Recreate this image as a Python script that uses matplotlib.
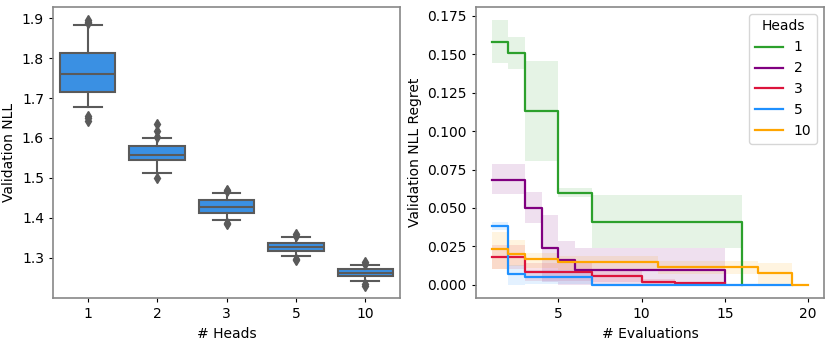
import matplotlib
matplotlib.use("Agg")
import matplotlib.pyplot as plt
from matplotlib.ticker import FormatStrFormatter

# ---------------- data: left box plot ----------------
heads_labels = ["1", "2", "3", "5", "10"]
box_med = [1.760, 1.557, 1.428, 1.328, 1.261]
box_q1 = [1.716, 1.545, 1.413, 1.317, 1.254]
box_q3 = [1.812, 1.580, 1.445, 1.338, 1.271]
box_whislo = [1.677, 1.511, 1.394, 1.303, 1.242]
box_whishi = [1.883, 1.600, 1.463, 1.351, 1.282]
box_fliers = [
    [1.895, 1.891, 1.887, 1.655, 1.650, 1.643],
    [1.636, 1.618, 1.603, 1.500],
    [1.470, 1.466, 1.388, 1.385],
    [1.360, 1.355, 1.297, 1.293],
    [1.288, 1.285, 1.235, 1.230],
]

# ---------------- data: right regret curves ----------------
series_names = ["1", "2", "3", "5", "10"]
series_colors = ["tab:green", "purple", "crimson", "dodgerblue", "orange"]

regret_h1 = [0.158, 0.1505, 0.113, 0.113, 0.060, 0.060,
             0.041, 0.041, 0.041, 0.041, 0.041, 0.041, 0.041, 0.041, 0.041, 0.0]
lo_h1 = [0.144, 0.1405, 0.0808, 0.0808, 0.0574, 0.0574,
         0.0242, 0.0242, 0.0242, 0.0242, 0.0242, 0.0242, 0.0242, 0.0242, 0.0242, 0.0]
hi_h1 = [0.172, 0.161, 0.1455, 0.1455, 0.0628, 0.0628,
         0.0585, 0.0585, 0.0585, 0.0585, 0.0585, 0.0585, 0.0585, 0.0585, 0.0585, 0.0]

regret_h2 = [0.068, 0.068, 0.050, 0.0238, 0.0162,
             0.0100, 0.0100, 0.0100, 0.0100, 0.0100, 0.0100, 0.0100, 0.0100, 0.0100, 0.0012]
lo_h2 = [0.0589, 0.0589, 0.040, 0.002, 0.0,
         0.0, 0.0, 0.0, 0.0, 0.0, 0.0, 0.0, 0.0, 0.0, 0.0]
hi_h2 = [0.0784, 0.0784, 0.0602, 0.0453, 0.0288,
         0.0238, 0.0238, 0.0238, 0.0238, 0.0238, 0.0238, 0.0238, 0.0238, 0.0238, 0.0012]

regret_h3 = [0.018, 0.018, 0.0082, 0.0082, 0.0082, 0.0082, 0.0061, 0.0061, 0.0061,
             0.0018, 0.0018, 0.0012, 0.0012, 0.0012, 0.0012]
lo_h3 = [0.0102, 0.0102, 0.0025, 0.0025, 0.0025, 0.0025, 0.002, 0.002, 0.002,
         0.0, 0.0, 0.0, 0.0, 0.0, 0.0]
hi_h3 = [0.026, 0.026, 0.014, 0.014, 0.014, 0.014, 0.010, 0.010, 0.010,
         0.004, 0.004, 0.0022, 0.0022, 0.0022, 0.0022]

regret_h5 = [0.038, 0.0071, 0.0054, 0.0054, 0.0054, 0.0054] + [0.0] * 13
lo_h5 = [0.0357, 0.0, 0.0005, 0.0005, 0.0005, 0.0005] + [0.0] * 13
hi_h5 = [0.0407, 0.013, 0.0095, 0.0095, 0.0095, 0.0095] + [0.0] * 13

regret_h10 = [0.0232, 0.0204, 0.0167, 0.0167, 0.0147, 0.0147, 0.0147, 0.0147, 0.0147, 0.0147,
              0.0115, 0.0115, 0.0115, 0.0115, 0.0115, 0.0115, 0.0076, 0.0076, 0.0, 0.0]
lo_h10 = [0.0105, 0.012, 0.011, 0.011, 0.010, 0.010, 0.010, 0.010, 0.010, 0.010,
          0.007, 0.007, 0.007, 0.007, 0.007, 0.007, 0.0006, 0.0006, 0.0, 0.0]
hi_h10 = [0.0346, 0.029, 0.021, 0.021, 0.019, 0.019, 0.019, 0.019, 0.019, 0.019,
          0.0158, 0.0158, 0.0158, 0.0158, 0.0158, 0.0158, 0.0141, 0.0141, 0.0, 0.0]

regret_means = [regret_h1, regret_h2, regret_h3, regret_h5, regret_h10]
regret_lo = [lo_h1, lo_h2, lo_h3, lo_h5, lo_h10]
regret_hi = [hi_h1, hi_h2, hi_h3, hi_h5, hi_h10]

# ---------------- figure ----------------
plt.rcParams["font.family"] = ["DejaVu Sans"]
plt.rcParams["font.size"] = 10
plt.rcParams["xtick.major.size"] = 3
plt.rcParams["ytick.major.size"] = 3
fig = plt.figure(figsize=(8.31, 3.42), dpi=100)
ax1 = fig.add_axes([53 / 831, 44 / 342, 347 / 831, 291 / 342])
ax2 = fig.add_axes([476 / 831, 44 / 342, 348 / 831, 291 / 342])

box_color = "#3a90e3"
edge_gray = "#5a5a5a"
stats = []
for i in range(len(heads_labels)):
    stats.append(dict(med=box_med[i], q1=box_q1[i], q3=box_q3[i],
                      whislo=box_whislo[i], whishi=box_whishi[i],
                      fliers=box_fliers[i], label=heads_labels[i]))
ax1.bxp(stats, positions=range(len(stats)), widths=0.8, patch_artist=True,
        boxprops=dict(facecolor=box_color, edgecolor=edge_gray, linewidth=1.5),
        medianprops=dict(color=edge_gray, linewidth=1.5),
        whiskerprops=dict(color=edge_gray, linewidth=1.5),
        capprops=dict(color=edge_gray, linewidth=1.5),
        flierprops=dict(marker="d", markerfacecolor=edge_gray, markeredgecolor=edge_gray,
                        markersize=5))
ax1.set_xlim(-0.5, 4.5)
ax1.set_ylim(1.199, 1.928)
ax1.set_yticks([1.3, 1.4, 1.5, 1.6, 1.7, 1.8, 1.9])
ax1.set_xlabel("# Heads")
ax1.set_ylabel("Validation NLL")

for name, col, m, lo, hi in zip(series_names, series_colors, regret_means, regret_lo, regret_hi):
    xs = list(range(1, len(m) + 1))
    ax2.fill_between(xs, lo, hi, step="post", color=col, alpha=0.12, linewidth=0)
    ax2.plot(xs, m, drawstyle="steps-post", color=col, linewidth=1.6, label=name)

ax2.set_xlim(0.05, 20.95)
ax2.set_ylim(-0.0085, 0.1806)
ax2.set_xticks([5, 10, 15, 20])
ax2.set_yticks([0.0, 0.025, 0.05, 0.075, 0.1, 0.125, 0.15, 0.175])
ax2.yaxis.set_major_formatter(FormatStrFormatter("%.3f"))
ax2.set_xlabel("# Evaluations")
ax2.set_ylabel("Validation NLL Regret")
ax2.legend(title="Heads", loc="upper right")

for ax in (ax1, ax2):
    for s in ax.spines.values():
        s.set_color("#888888")
        s.set_linewidth(1.2)

fig.savefig("out.png", dpi=100)
